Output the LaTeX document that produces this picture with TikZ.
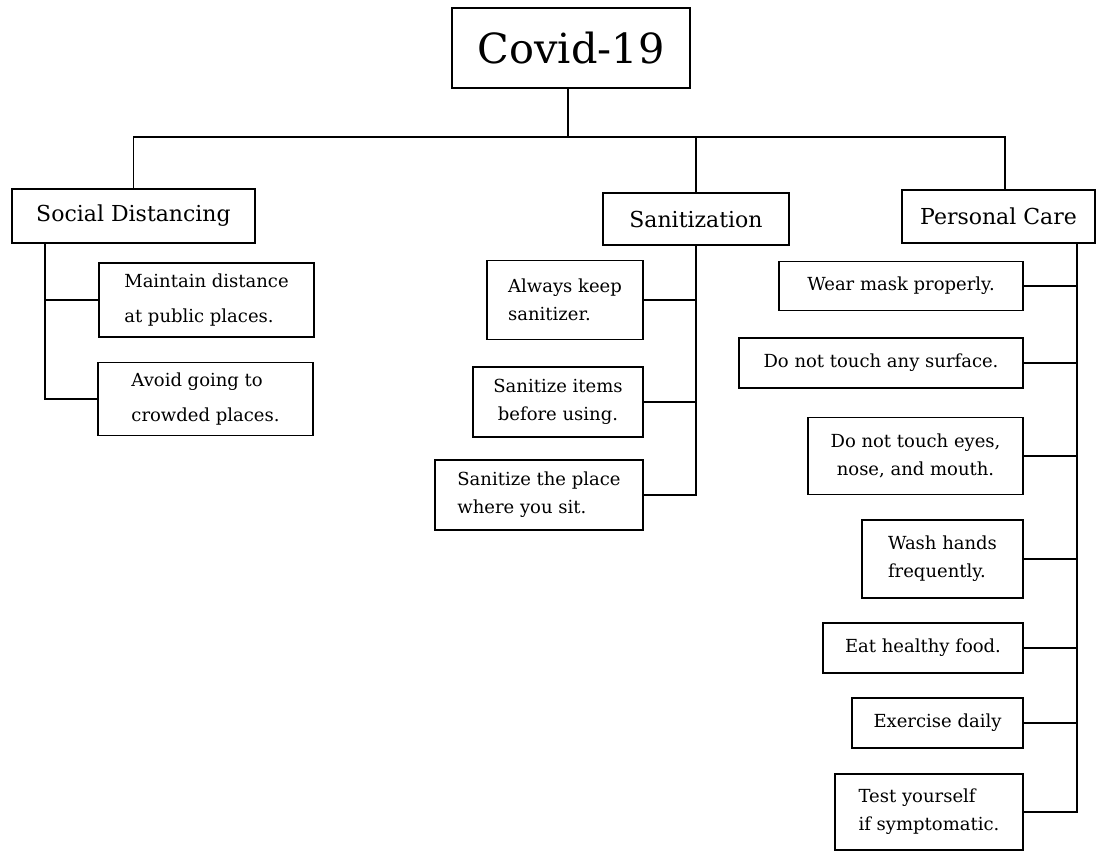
\documentclass[tikz,border=0pt]{standalone}
\usepackage{fontspec}
\setmainfont{DejaVu Serif}
\usetikzlibrary{positioning}

\begin{document}
\begin{tikzpicture}[x=1pt,y=-1pt,
    box/.style={draw, line width=1.5pt, inner sep=0pt, align=left, font=\fontsize{18}{28}\selectfont},
    head/.style={box, font=\fontsize{22}{26}\selectfont},
    link/.style={line width=1.5pt}]
\useasboundingbox (0,0) rectangle (1097,852);

% top and groups
\node[box, font=\fontsize{41.5}{50}\selectfont, minimum width=238, minimum height=80] (covid) at (571,48) {Covid-19};
\node[head, minimum width=243, minimum height=54] (social) at (133.5,216) {Social Distancing};
\node[head, minimum width=186, minimum height=52] (sanit) at (696,219) {Sanitization};
\node[head, minimum width=193, minimum height=53] (care) at (998.5,216.5) {Personal Care};

% social distancing
\node[box, font=\fontsize{18}{35}\selectfont, minimum width=215, minimum height=74] (dist) at (206.5,300) {Maintain distance\\at public places.};
\node[box, font=\fontsize{18}{35}\selectfont, minimum width=215, minimum height=73] (crowd) at (205.5,399) {Avoid going to\\crowded places.};

% sanitization
\node[box, minimum width=156, minimum height=79] (keep) at (565,300) {Always keep\\sanitizer.};
\node[box, align=center, minimum width=170, minimum height=70] (items) at (558,402) {Sanitize items\\before using.};
\node[box, minimum width=208, minimum height=70] (place) at (539,495) {Sanitize the place\\where you sit.};

% personal care
\node[box, minimum width=244, minimum height=49] (mask) at (901,286) {Wear mask properly.};
\node[box, minimum width=284, minimum height=50] (surface) at (881,363) {Do not touch any surface.};
\node[box, align=center, minimum width=215, minimum height=77] (eyes) at (915.5,456) {Do not touch eyes,\\nose, and mouth.};
\node[box, minimum width=161, minimum height=78] (hands) at (942.5,559) {Wash hands\\frequently.};
\node[box, minimum width=200, minimum height=50] (food) at (923,648) {Eat healthy food.};
\node[box, minimum width=171, minimum height=50] (exercise) at (937.5,723) {Exercise daily};
\node[box, minimum width=188, minimum height=76] (test) at (929,812) {Test yourself\\if symptomatic.};

% junctions
\coordinate (bus) at (568,137);
\coordinate (caretop) at (1005,190);
\coordinate (socialfoot) at (45,243);
\coordinate (carefoot) at (1077,243);

\draw[link] (covid.south -| bus) -- (bus);
\draw[link] (social.north) |- (bus) -| (caretop);
\draw[link] (sanit.north) -- (sanit.north |- bus);

\draw[link] (socialfoot) |- (crowd.west);
\draw[link] (dist.west) -- (dist.west -| socialfoot);

\draw[link] (sanit.south) |- (place.east);
\foreach \n in {keep,items}
  \draw[link] (\n.east) -- (\n.east -| sanit.south);

\draw[link] (carefoot) |- (test.east);
\foreach \n in {mask,surface,eyes,hands,food,exercise}
  \draw[link] (\n.east) -- (\n.east -| carefoot);
\end{tikzpicture}
\end{document}
